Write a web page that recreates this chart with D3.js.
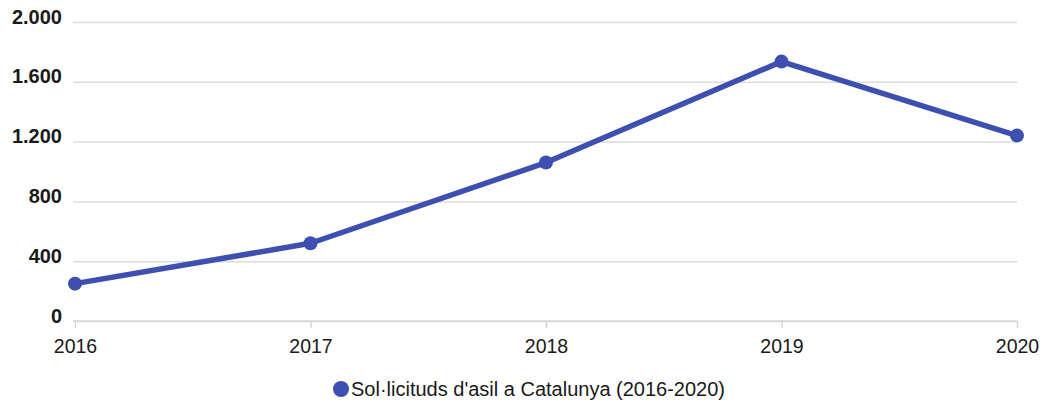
<!DOCTYPE html>
<html>
<head>
<meta charset="utf-8">
<script src="https://cdn.jsdelivr.net/npm/d3@7"></script>
<style>
  body { margin: 0; background: #fff; }
  svg { display: block; font-family: "Liberation Sans", Arial, Helvetica, sans-serif; }
</style>
</head>
<body>
<script>
// asylum requests in Catalonia
const years = ["2016", "2017", "2018", "2019", "2020"];
const requests = [250, 520, 1060, 1735, 1240];
const yTicks = [0, 400, 800, 1200, 1600, 2000];
const seriesName = "Sol·licituds d'asil a Catalunya (2016-2020)";

const width = 1044;
const height = 405;
const color = "#3d50b2";

const svg = d3.select("body").append("svg")
  .attr("width", width)
  .attr("height", height);

const x = d3.scalePoint().domain(years).range([75, 1017]);
const y = d3.scaleLinear().domain([0, 2000]).range([321, 22]);

const locale = d3.formatLocale({ decimal: ",", thousands: ".", grouping: [3], currency: ["", " €"] });
const fmt = locale.format(",");

// gridlines + y labels
const yAxis = svg.append("g")
  .call(d3.axisLeft(y).tickValues(yTicks).tickFormat(fmt).tickSize(0).tickPadding(0));
yAxis.select(".domain").remove();
yAxis.selectAll(".tick line")
  .attr("x1", 73).attr("x2", 1017)
  .attr("stroke", "#dcdcdc")
  .attr("stroke-width", 1.5);
yAxis.selectAll(".tick text")
  .attr("x", 62)
  .attr("dy", "0.05em")
  .attr("fill", "#1a1a1a")
  .attr("font-size", 20)
  .attr("font-weight", "bold");

// x axis
const xAxis = svg.append("g")
  .attr("transform", `translate(0,${y(0)})`)
  .call(d3.axisBottom(x).tickSize(7).tickPadding(11).tickSizeOuter(0));
xAxis.select(".domain").attr("stroke", "#d6d6d6").attr("stroke-width", 1.5)
  .attr("d", `M73,0H1017`);
xAxis.selectAll(".tick line").attr("stroke", "#d6d6d6").attr("stroke-width", 1.5);
xAxis.selectAll(".tick text")
  .attr("fill", "#1a1a1a")
  .attr("font-size", 19.5);

// series line
const line = d3.line()
  .x((d, i) => x(years[i]))
  .y((d) => y(d));

svg.append("path")
  .datum(requests)
  .attr("d", line)
  .attr("fill", "none")
  .attr("stroke", color)
  .attr("stroke-width", 5.5)
  .attr("stroke-linejoin", "round");

svg.append("g")
  .selectAll("circle")
  .data(requests)
  .join("circle")
  .attr("cx", (d, i) => x(years[i]))
  .attr("cy", (d) => y(d))
  .attr("r", 7)
  .attr("fill", color);

// legend
const legend = svg.append("g").attr("transform", "translate(341,389)");
legend.append("circle").attr("r", 8).attr("fill", color);
legend.append("text")
  .attr("x", 10)
  .attr("dy", "0.35em")
  .attr("font-size", 20)
  .attr("fill", "#1a1a1a")
  .text(seriesName);
</script>
</body>
</html>
